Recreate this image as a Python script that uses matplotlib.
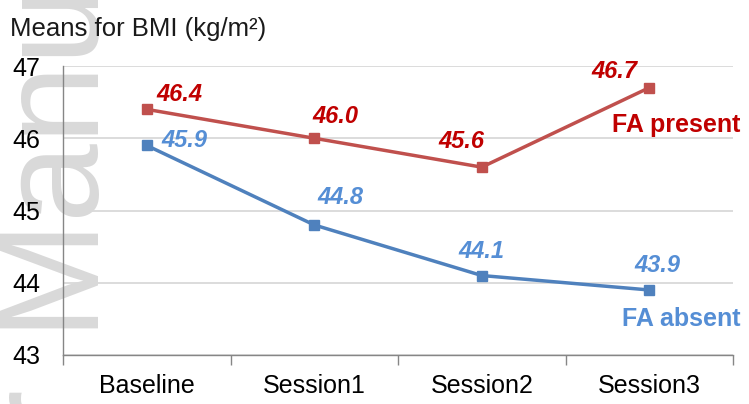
#!/usr/bin/env python3

# Line chart of mean BMI by session, with and without FA.

import matplotlib
matplotlib.use('Agg')
import matplotlib.pyplot as plt
from matplotlib.ticker import FixedLocator, NullFormatter

sessions = ['Baseline', 'Session1', 'Session2', 'Session3']
fa_present = [46.4, 46.0, 45.6, 46.7]
fa_absent = [45.9, 44.8, 44.1, 43.9]

# label offsets in pixels from each point (dx, dy, ha)
present_offsets = [(10, 15, 'left'), (-2, 22, 'left'), (3, 26, 'right'), (-12, 16, 'right')]
absent_offsets = [(15, 5, 'left'), (3, 27, 'left'), (0, 24, 'center'), (8, 24, 'center')]

red_line = '#c0504d'
red_text = '#c00000'
blue_line = '#4f81bd'
blue_text = '#558ed5'

plt.rcParams['font.family'] = ['Liberation Sans', 'DejaVu Sans']

W, H = 749, 404
fig = plt.figure(figsize=(W / 100, H / 100), dpi=100)
ax = fig.add_axes([63 / W, 1 - 355 / H, 670 / W, 289 / H])
ax.set_facecolor('none')

# faint vertical watermark behind the plot
wm = dict(rotation=90, rotation_mode='anchor', va='baseline', fontsize=102,
          color='#d9d9d9', zorder=-5)
fig.text(87 / W, 1 - 328 / H, 'Manuscript', ha='left', **wm)
fig.text(87 / W, 1 - 388 / H, 'Author', ha='right', **wm)

x = list(range(len(sessions)))
ax.plot(x, fa_present, color=red_line, lw=2.5, marker='s', ms=7, zorder=3)
ax.plot(x, fa_absent, color=blue_line, lw=2.5, marker='s', ms=7, zorder=3)

for xi, v, (dx, dy, ha) in zip(x, fa_present, present_offsets):
    ax.annotate(f'{v:.1f}', (xi, v), xytext=(dx, dy), textcoords='offset pixels',
                ha=ha, va='center', color=red_text, fontsize=17,
                fontweight='bold', fontstyle='italic')
for xi, v, (dx, dy, ha) in zip(x, fa_absent, absent_offsets):
    ax.annotate(f'{v:.1f}', (xi, v), xytext=(dx, dy), textcoords='offset pixels',
                ha=ha, va='center', color=blue_text, fontsize=17,
                fontweight='bold', fontstyle='italic')

ax.annotate('FA present', (3.5, 46.18), xytext=(7, 0), textcoords='offset pixels',
            ha='right', va='center', color=red_text, fontsize=18, fontweight='bold')
ax.annotate('FA absent', (3.5, 43.50), xytext=(7, 0), textcoords='offset pixels',
            ha='right', va='center', color=blue_text, fontsize=18, fontweight='bold')

ax.set_xlim(-0.5, 3.5)
ax.set_ylim(43, 47)
ax.set_yticks([43, 44, 45, 46, 47])
ax.set_yticklabels(['43', '44', '45', '46', '47'], fontsize=18)
ax.yaxis.grid(True, color='#d9d9d9', lw=1.3)
ax.set_axisbelow(True)
ax.tick_params(axis='y', length=0, pad=16.5)

# category labels at the centres, tick marks on the boundaries
ax.xaxis.set_major_locator(FixedLocator([-0.5, 0.5, 1.5, 2.5, 3.5]))
ax.xaxis.set_major_formatter(NullFormatter())
ax.xaxis.set_minor_locator(FixedLocator(x))
ax.set_xticklabels(sessions, minor=True, fontsize=18)
ax.tick_params(axis='x', which='major', length=7, color='#868686', width=1)
ax.tick_params(axis='x', which='minor', length=0, pad=14)

for s in ['top', 'right']:
    ax.spines[s].set_visible(False)
for s in ['left', 'bottom']:
    ax.spines[s].set_color('#868686')
    ax.spines[s].set_linewidth(1)

fig.text(10 / W, 1 - 29 / H, 'Means for BMI (kg/m\u00b2)', ha='left', va='center',
         fontsize=18.5, color='#1a1a1a')

fig.savefig('out.png', dpi=100)
